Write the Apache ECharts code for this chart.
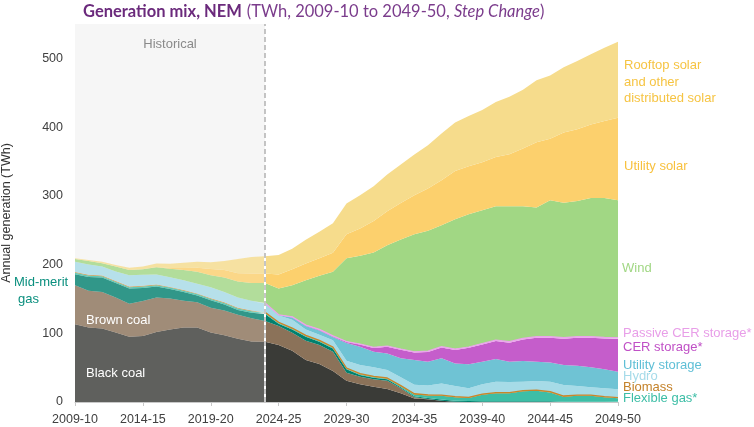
<!DOCTYPE html>
<html>
<head>
<meta charset="utf-8">
<script src="https://cdn.jsdelivr.net/npm/echarts@6/dist/echarts.min.js"></script>
<style>html,body{margin:0;padding:0;background:#fff}#c{width:754px;height:427px}</style>
</head>
<body>
<div id="c"></div>
<script>
var CATS = ['2009-10','2010-11','2011-12','2012-13','2013-14','2014-15','2015-16','2016-17','2017-18','2018-19',
  '2019-20','2020-21','2021-22','2022-23','2023-24','2024-25','2025-26','2026-27','2027-28','2028-29',
  '2029-30','2030-31','2031-32','2032-33','2033-34','2034-35','2035-36','2036-37','2037-38','2038-39',
  '2039-40','2040-41','2041-42','2042-43','2043-44','2044-45','2045-46','2046-47','2047-48','2048-49','2049-50'];
var HIST_END = 14; // index of 2023-24
var Y_TICKS = [0,100,200,300,400,500];

var blackCoal = [113,108.5,107,101,95,96,102,105.5,108.5,108.5,101,97,92,88,87.5,82.8,74.6,61,55.2,45,31,25.7,22.3,18.9,12.6,5,4,2,0.5,0,0,0,0,0,0,0,0,0,0,0,0];
var brownCoal = [57,53.5,53,51,48,51,50,45,39,36.5,36,36,35,34,30.5,27.7,26.2,28,27.6,28,11.6,11.1,10.7,12.1,7.3,2,0.5,0,0,0,0,0,0,0,0,0,0,0,0,0,0];
var midMeritGas = [16,20,21,21,22,19,16,14,12.5,10,11,9,7,8,10,3.5,4.8,6,4.9,5,4.9,2.4,2.4,2,1.5,1.5,1.5,1.5,1.5,1.5,1,1,1,1,1,1,0.5,0.5,0.5,0.5,0.5];
var flexibleGas = [2,2,2,2,2,2,2,2,2,2,2,2,2,2,1.5,1,1,1,1,1,1,1,1,1,1.5,2.5,3.5,5.5,4.8,4.3,9.6,11.6,11.6,14.5,15.4,13,7.2,8.5,8.5,6.3,4.8];
var biomass = [1,1,1,1,1,1,1,1,1,1,1,1,1,1,1,1,1,1,1,1,1,1,1,1,1,1,1,1,1,1,1,1,1,1,1,1,1,1,1,1,1];
var hydro = [15,15,13,14,16.5,16,14.5,14,14,14,16,15,15,14,13,10,12,8.5,8,10,10.5,12.6,13,11.5,12,13,13.5,17,15.5,13.1,14.4,15.9,15.4,13,13.1,14.5,16,13.3,11.3,12.1,12.1];
var utilityStorage = [0,0,0,0,0,0,0,0,0,0,0,0,0.2,0.3,0.5,0.7,3.4,5,6.3,4.5,26,26.6,22.6,24.2,27.6,36,34.6,36.5,32.7,35.1,32.6,33,29.6,30.1,28.1,28.1,29.1,29.5,29.1,27.6,25.6];
var cerStorage = [0,0,0,0,0,0,0,0,0,0,0,0,0,0,0,0.1,0.6,1,1.2,1.2,1.5,3.3,5.5,9.7,12.5,11,14.2,15.7,19.8,23.8,25,26.1,27.7,31.4,34.9,35.9,38.2,40.7,43.1,45,48];
var passiveCer = [0,0,0,0,0,0,0,0,0,0,0,0,0,0,0,0.1,0.4,0.5,0.5,0.5,0.5,0.6,1,1,1,1,1.2,1.2,1.2,1.2,1.4,1.4,1.4,1.5,1.5,1.5,1.5,1.5,1.5,1.5,1.5];
var wind = [4,5,5,7,7.5,8,10.5,12.5,15,17.5,17.5,21,23,26,29,38.1,46,65,77.9,93.2,121,128.4,138,146.6,159.4,171,175,176.6,189,193,194,195,197.3,192.5,188,198.6,196.5,197.6,202,203,200.1];
var utilitySolar = [0,0,0,0,0,0.3,0.5,1,3,6,9,11,12,13.5,14,20.6,23,24.6,25.4,27.6,35,39.7,46,49.6,53.3,57,61.6,65.7,70,70,70,71.6,75.5,83.7,95,89.4,102,104.2,106.6,112,120.1];
var rooftopSolar = [1,1.5,2,2.5,3.5,4,5,6,7.5,8.5,10,13,21,24,25,28.4,30,34.4,38.6,43,45,48.6,50.5,53.4,55.8,59,62.9,67.8,70.5,73,76,79.9,83.5,85.8,90,92,95,99.2,102.4,106.5,110.3];

var SERIES = [
  {name:'Black coal', data:blackCoal, color:'#3a3b37'},
  {name:'Brown coal', data:brownCoal, color:'#8b7259'},
  {name:'Mid-merit gas', data:midMeritGas, color:'#00806e'},
  {name:'Flexible gas*', data:flexibleGas, color:'#3dbea6'},
  {name:'Biomass', data:biomass, color:'#c8862a', line:true},
  {name:'Hydro', data:hydro, color:'#a6dbe7'},
  {name:'Utility storage', data:utilityStorage, color:'#6fc3d4'},
  {name:'CER storage*', data:cerStorage, color:'#c55dcb'},
  {name:'Passive CER storage*', data:passiveCer, color:'#eaa5ea', line:true},
  {name:'Wind', data:wind, color:'#a1d784'},
  {name:'Utility solar', data:utilitySolar, color:'#fcd06d'},
  {name:'Rooftop solar', data:rooftopSolar, color:'#f6dc8c'}
];

var total14 = SERIES.reduce(function(s, d){ return s + d.data[HIST_END]; }, 0);

var series = [];
series.push({
  type:'line', name:'bg', data:[], z:1, silent:true,
  markArea:{silent:true, itemStyle:{color:'#f6f6f6'},
    label:{show:true, position:'insideTop', distance:14, color:'#8a8a8a', fontSize:13, fontFamily:'Liberation Sans, Arial'},
    data:[[{name:'Historical', xAxis:CATS[0], yAxis:550},{xAxis:CATS[HIST_END], yAxis:0}]]}
});
SERIES.forEach(function(s){
  ['h','p'].forEach(function(part){
    var d = s.data.map(function(v,i){
      if (part==='h') return i<=HIST_END ? v : '-';
      return i>=HIST_END ? v : '-';
    });
    var showLine = s.line && part==='p';
    series.push({
      type:'line', name:s.name, stack:part, data:d, symbol:'none', silent:true,
      z: showLine ? 3 : 2,
      lineStyle: showLine ? {width:1.3, color:s.color} : {width:0},
      areaStyle:{color:s.color, opacity: part==='h' ? 0.8 : 1},
      itemStyle:{color:s.color}
    });
  });
});
series.push({
  type:'line', name:'divider', data:[], z:6, silent:true,
  markLine:{silent:true, symbol:'none', label:{show:false},
    data:[
      [{coord:[CATS[HIST_END],0], lineStyle:{color:'#ffffff', width:2, type:'solid'}},{coord:[CATS[HIST_END], total14]}],
      {xAxis:CATS[HIST_END], lineStyle:{color:'#b2b2b2', width:1.5, type:[5,3]}}
    ]}
});

var FONT = 'Liberation Sans, Arial, sans-serif';
function lbl(text, x, y, color){
  return {type:'text', x:x, y:y, silent:true, z:100,
    style:{text:text, fill:color, font:'13px '+FONT, textVerticalAlign:'middle', textAlign:'left'}};
}

var chart = echarts.init(document.getElementById('c'), null, {renderer:'canvas'});
chart.setOption({
  animation:false,
  backgroundColor:'#ffffff',
  title:{
    left:78, top:-2,
    text:'{b|Generation mix, NEM} {n|(TWh, 2009-10 to 2049-50, }{i|Step Change}{n|)}',
    textStyle:{fontWeight:'normal', rich:{
      b:{fontFamily:'Lato, sans-serif', fontWeight:'bold', fontSize:16.5, color:'#6b2a7c'},
      n:{fontFamily:'Lato, sans-serif', fontWeight:'normal', fontSize:16.5, color:'#7b3c8c'},
      i:{fontFamily:'Lato, sans-serif', fontWeight:'normal', fontStyle:'italic', fontSize:16.5, color:'#7b3c8c'}
    }}
  },
  grid:{left:75, right:136, top:24, bottom:25, containLabel:false, outerBoundsMode:'none'},
  xAxis:{
    type:'category', data:CATS, boundaryGap:false,
    axisLine:{lineStyle:{color:'#c8c8c8', width:1}},
    axisTick:{interval:4, length:4, lineStyle:{color:'#c8c8c8'}},
    axisLabel:{interval:4, color:'#404040', fontSize:12.5, fontFamily:FONT, margin:11},
    splitLine:{show:false}
  },
  yAxis:{
    type:'value', min:0, max:550, interval:100,
    name:'Annual generation (TWh)', nameLocation:'middle', nameGap:62,
    nameTextStyle:{color:'#333', fontSize:12.5, fontFamily:FONT},
    axisLine:{show:false}, axisTick:{show:false}, splitLine:{show:false},
    axisLabel:{color:'#404040', fontSize:12.5, fontFamily:FONT, margin:12,
      formatter:function(v){ return Y_TICKS.indexOf(v)>=0 ? String(v) : ''; }}
  },
  series:series,
  graphic:[
    lbl('Rooftop solar', 624, 65, '#f6c443'),
    lbl('and other', 624, 82, '#f6c443'),
    lbl('distributed solar', 624, 98, '#f6c443'),
    lbl('Utility solar', 624, 166, '#f8c13e'),
    lbl('Wind', 622, 268, '#a1d784'),
    lbl('Passive CER storage*', 623, 333, '#e89ee8'),
    lbl('CER storage*', 623, 347, '#c050c6'),
    lbl('Utility storage', 623, 365, '#5fbfd6'),
    lbl('Hydro', 623, 376, '#a6dbe9'),
    lbl('Biomass', 623, 387, '#c4822a'),
    lbl('Flexible gas*', 623, 398, '#3dbea6'),
    lbl('Mid-merit', 14, 282, '#0a8f7e'),
    lbl('gas', 18, 299, '#0a8f7e'),
    lbl('Brown coal', 86, 320, '#ffffff'),
    lbl('Black coal', 86, 373, '#ffffff')
  ]
});
</script>
</body>
</html>
